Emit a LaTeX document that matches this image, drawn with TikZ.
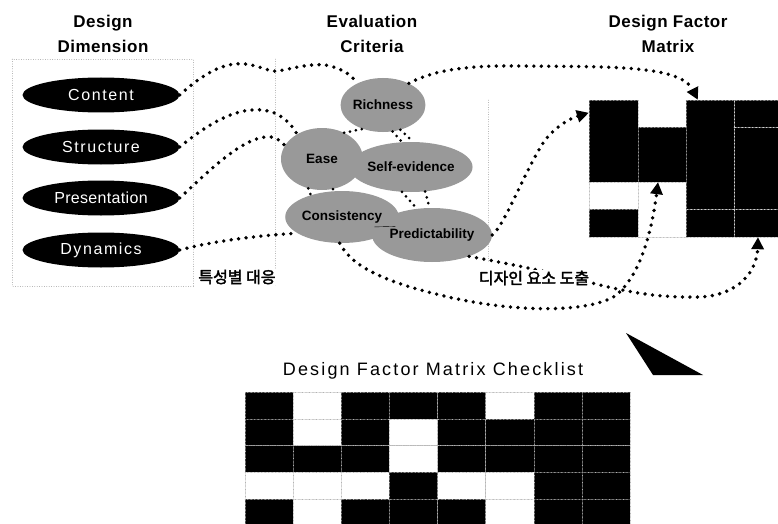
\documentclass[tikz,border=0pt]{standalone}
\usepackage{fontspec}
\setmainfont{Liberation Sans}
\newfontfamily\kr[AutoFakeBold=2.5]{Noto Sans CJK KR}
\usetikzlibrary{shapes.geometric,arrows.meta}
\colorlet{cell0}{white}
\colorlet{cell1}{black}
\begin{document}
\begin{tikzpicture}
  [x=1pt,y=-1pt,line cap=round,line join=round,
   title/.style={align=center,font=\fontsize{17}{25}\selectfont\bfseries\addfontfeature{LetterSpace=3}},
   dimnode/.style={ellipse,fill=black,text=white,inner sep=0pt,minimum width=157pt,minimum height=35pt,
     font=\fontsize{16}{16}\selectfont\addfontfeature{LetterSpace=10}},
   critnode/.style={ellipse,fill=black!40,inner sep=0pt,font=\fontsize{13.5}{14}\selectfont\bfseries},
   link/.style={line width=3.8pt,dash pattern=on 0pt off 7.5pt},
   critlink/.style={line width=3pt,dash pattern=on 0pt off 6pt},
   tip/.style={-{Triangle[length=12pt,width=12pt]}},
   guide/.style={gray!70,thin,dotted},
   blk/.style={draw=gray!60,densely dotted,thin,inner sep=0pt},
   cell/.style={blk,minimum width=48.125pt,minimum height=26.75pt},
   kortext/.style={fill=white,inner sep=1pt,font=\fontsize{16}{16}\selectfont\kr\bfseries}]

\useasboundingbox (0,0) rectangle (778,524);

%titles
 \node[title] (dimtitle) at (103,34) {Design\\Dimension};
 \node[title] (crittitle) at (372,34) {Evaluation\\Criteria};
 \node[title] (mattitle) at (668,34) {Design Factor\\Matrix};

%column guides
 \draw[guide] (12,59) rectangle (193,286);
 \draw[guide] (275,59) -- (275,285);
 \draw[guide] (488,100) -- (488,262);

%design dimension
 \node[dimnode] (content) at (101,95) {Content};
 \node[dimnode] (structure) at (101,147) {Structure};
 \node[dimnode,font=\fontsize{16}{16}\selectfont\addfontfeature{LetterSpace=2}] (presentation) at (101,198) {Presentation};
 \node[dimnode] (dynamics) at (101,250) {Dynamics};

%evaluation criteria
 \node[critnode,minimum width=78pt,minimum height=54pt] (richness) at (383,105) {Richness};
 \node[critnode,minimum width=82pt,minimum height=62pt] (ease) at (322,159) {Ease};
 \node[critnode,minimum width=92pt,minimum height=50pt] (selfev) at (411,167) {Self-evidence};
 \node[critnode,minimum width=90pt,minimum height=52pt] (consist) at (342,217) {Consistency};
 \node[critnode,minimum width=90pt,minimum height=54pt] (predict) at (432,235) {Predictability};

 \draw[critlink] (ease.50) -- (richness.230);
 \draw[critlink] (richness.290) -- (selfev.110);
 \draw[critlink] (richness.305) -- (selfev.85);
 \draw[critlink] (selfev.250) -- (predict.120);
 \draw[critlink] (selfev.300) -- (predict.95);
 \draw[critlink] (ease.245) -- (consist.145);
 \draw[critlink] (ease.290) -- (consist.115);
 \draw[thin] (consist.350) -- (predict.172);

%design factor matrix
 \node[blk,fill=black,minimum width=49pt,minimum height=82pt] (mtl) at (613.5,141) {};
 \node[blk,fill=black,minimum width=48pt,minimum height=55pt] (mtr) at (662,154.5) {};
 \node[blk,fill=white,minimum width=49pt,minimum height=27pt] (mml) at (613.5,195.5) {};
 \node[blk,fill=black,minimum width=49pt,minimum height=28pt] (mbl) at (613.5,223) {};
 \node[blk,fill=white,minimum width=48pt,minimum height=55pt] (mbr) at (662,209.5) {};
 \node[blk,fill=black,minimum width=92pt,minimum height=137pt] (rblock) at (732,168.5) {};
 \draw[white,densely dotted,thin] ([xshift=2pt]rblock.north) -- ([xshift=2pt]rblock.south);
 \draw[white,densely dotted,thin] ([xshift=2pt,yshift=-27pt]rblock.north) -- ([yshift=-27pt]rblock.north east);
 \draw[white,densely dotted,thin] ([yshift=28pt]rblock.south west) -- ([yshift=28pt]rblock.south east);

%mapping curves
 \draw[link] (content.east) .. controls (205,72) and (225,62) .. (245,64)
   .. controls (262,66) and (268,72) .. (278,71) .. controls (295,68) and (315,62) .. (330,66)
   .. controls (345,70) and (352,76) .. (richness.140);
 \draw[link] (structure.east) .. controls (215,118) and (240,108) .. (262,110)
   .. controls (280,112) and (290,122) .. (ease.135);
 \draw[link] (presentation.east) .. controls (210,170) and (240,140) .. (265,137)
   .. controls (275,136) and (280,140) .. (ease.160);
 \draw[link] (dynamics.east) .. controls (210,242) and (250,236) .. (consist.200);

 \draw[link,tip] (richness.40) .. controls (430,72) and (460,65) .. (520,66)
   .. controls (600,67) and (680,64) .. ([xshift=12pt]rblock.north west);
 \draw[link,tip] (predict.east) .. controls (505,225) and (525,170) .. (545,140)
   .. controls (560,122) and (575,117) .. ([yshift=-13pt]mtl.north west);
 \draw[link,tip] (consist.265) .. controls (352,268) and (390,283) .. (440,295)
   .. controls (500,310) and (575,315) .. (612,298)
   .. controls (640,280) and (652,230) .. ([xshift=-4pt]mtr.south);
 \draw[link,tip] (predict.330) .. controls (500,262) and (540,270) .. (580,280)
   .. controls (620,290) and (650,298) .. (700,297)
   .. controls (740,295) and (757,270) .. ([xshift=26pt]rblock.south);

 \node[kortext] (matchlabel) at (237,277) {특성별 대응};
 \node[kortext] (derivelabel) at (534,278) {디자인 요소 도출};

%checklist
 \fill (626,333) -- (653,375) -- (703,375) -- cycle;
 \node[font=\fontsize{18}{18}\selectfont\addfontfeature{LetterSpace=12}] (checktitle) at (433,371) {Design Factor Matrix Checklist};
 \foreach \row [count=\r] in {{1,0,1,1,1,0,1,1},{1,0,1,0,1,1,1,1},{1,1,1,0,1,1,1,1},{0,0,0,1,0,0,1,1},{1,0,1,1,1,0,1,1}}
   \foreach \v [count=\c] in \row
     \node[cell,fill=cell\v] (chk-\r-\c) at ({245+48.125*(\c-0.5)},{392+26.75*(\r-0.5)}) {};

\end{tikzpicture}
\end{document}
